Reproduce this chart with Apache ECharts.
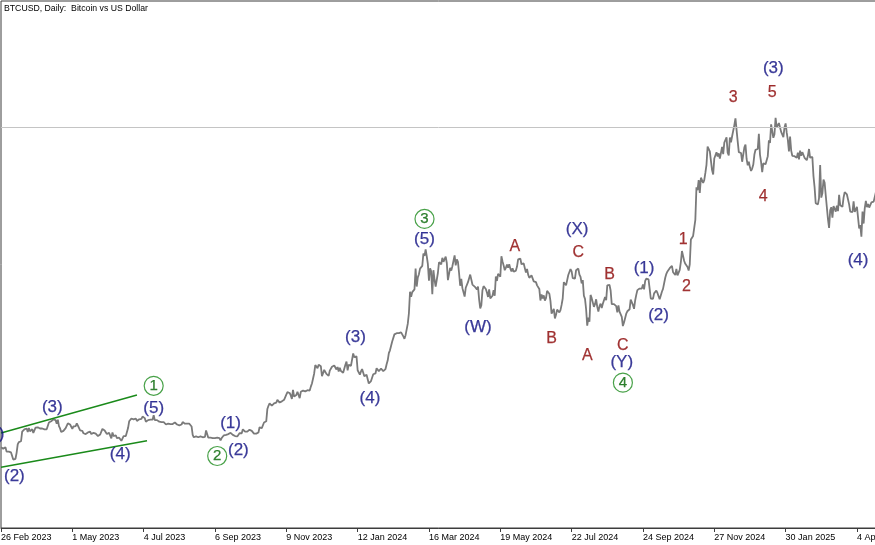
<!DOCTYPE html>
<html>
<head>
<meta charset="utf-8">
<script src="https://cdn.jsdelivr.net/npm/echarts@6/dist/echarts.min.js"></script>
<style>
html,body{margin:0;padding:0;background:#fff;}
#chart{width:875px;height:545px;}
</style>
</head>
<body>
<div id="chart"></div>
<script>
// ---- Data (daily closes, thousands of USD), 26 Feb 2023 .. 22 Apr 2025 ----
const startDate = '2023-02-26';
const dayCount = 787;

const close2023 = [
23.5,23.5,23.1,
23.6,23.5,22.4,22.4,22.4,22.4,22.2,21.7,20.4,20.2,20.6,22.1,24.2,24.8,24.4,25.0,27.4,27.0,28.0,27.8,28.2,27.3,28.3,27.5,27.5,28.0,27.1,27.3,28.4,28.0,28.5,
28.5,28.2,27.8,28.2,28.2,28.0,27.9,28.0,28.3,29.7,30.2,30.0,30.4,30.5,30.3,30.3,29.4,30.4,28.8,28.2,27.3,27.8,27.6,27.5,28.3,28.4,29.5,29.3,29.2,29.2,
28.1,28.7,29.0,28.8,29.5,28.9,28.4,27.7,27.6,27.6,27.0,26.8,26.8,26.9,27.2,27.0,27.4,26.8,26.9,27.1,26.7,26.9,27.2,26.3,26.5,26.7,26.9,28.1,27.7,27.7,27.2,
26.8,27.2,27.1,27.1,25.7,27.2,26.3,26.5,26.5,25.8,25.9,25.9,25.9,25.1,25.6,26.3,26.5,26.3,26.8,28.3,30.0,29.9,30.7,30.5,30.5,30.3,30.7,30.1,30.4,30.5,
30.6,30.6,31.2,31.0,30.8,29.9,30.3,30.3,30.2,30.4,30.6,30.4,31.5,30.3,30.3,30.3,30.1,29.9,29.9,29.8,29.9,29.8,30.1,29.2,29.2,29.4,29.2,29.3,29.3,29.3,29.2,
29.7,29.2,29.2,29.1,29.0,29.1,29.2,29.8,29.6,29.4,29.4,29.4,29.3,29.4,29.2,28.7,26.6,26.0,26.1,26.2,26.1,26.0,26.4,26.2,26.1,26.0,26.1,26.1,27.7,27.3,25.9,
25.8,25.9,26.0,25.8,25.8,25.8,26.2,25.9,25.9,25.8,25.2,25.8,26.2,26.5,26.6,26.6,26.5,26.8,27.2,27.1,26.6,26.6,26.6,26.3,26.3,26.2,26.4,27.0,27.0,27.0,
28.0,27.5,27.4,27.8,27.4,27.9,27.9,27.9,27.6,27.4,26.9,26.8,26.9,26.9,27.2,28.5,28.4,28.3,28.7,29.7,30.0,30.0,33.1,33.9,34.5,34.2,33.9,34.1,34.5,34.5,34.7,
35.4,34.9,34.7,35.1,35.0,35.0,35.4,35.6,36.7,37.3,37.1,37.1,36.5,35.6,37.9,36.2,36.6,36.6,37.4,37.5,35.8,37.4,37.3,37.7,37.8,37.5,37.2,37.8,37.9,37.7,
38.7,39.5,40.0,42.0,44.1,43.8,43.3,44.2,43.8,43.8,41.3,41.5,42.9,43.0,41.9,42.3,41.4,42.7,42.3,43.7,43.9,44.0,43.7,43.0,43.6,42.5,43.4,42.6,42.1,42.2,42.3
];
const close2024 = [
44.2,45.0,42.8,44.2,44.2,43.9,43.9,47.0,46.1,46.6,46.3,42.8,42.8,41.7,42.5,43.1,42.7,41.3,41.6,41.7,41.6,39.5,39.8,40.1,40.0,41.8,42.1,42.0,43.3,42.9,42.6,
43.1,43.2,43.0,42.6,42.7,43.1,44.3,45.3,47.1,47.8,48.3,50.0,49.7,51.8,51.9,52.1,51.6,52.1,51.8,52.3,51.8,51.3,50.7,51.6,51.7,54.5,57.1,62.5,61.2,
62.4,62.0,63.1,68.3,63.8,66.1,66.9,68.3,68.5,69.0,72.1,71.5,73.1,71.4,69.5,65.3,68.4,67.6,61.9,67.9,65.5,63.8,64.0,67.2,69.9,69.9,69.4,71.0,70.0,69.6,71.3,
69.7,65.4,65.9,68.5,67.8,68.9,69.3,71.6,69.1,70.6,70.0,67.2,64.0,65.7,63.4,63.8,61.3,63.5,63.8,64.9,64.9,66.8,66.4,64.3,64.5,63.8,63.4,63.1,63.8,60.6,
58.3,59.1,62.9,63.9,64.0,63.2,62.3,61.2,63.1,60.8,60.8,61.5,62.9,61.5,66.3,65.2,67.0,67.0,66.3,71.4,70.1,69.1,67.9,68.5,69.3,68.5,69.4,68.3,67.6,68.4,67.5,
67.8,67.8,68.8,70.6,71.1,70.8,69.4,69.3,69.6,69.5,67.3,68.2,66.8,66.0,66.2,66.6,66.5,65.1,65.0,64.9,64.1,64.3,63.2,60.3,61.8,60.8,61.6,60.3,60.9,62.7,
62.8,62.0,60.2,57.0,56.7,58.2,55.8,56.7,58.0,57.7,57.3,57.9,59.2,60.8,64.9,65.1,64.1,64.0,66.7,67.1,68.2,67.6,65.9,65.4,65.8,67.9,68.0,68.3,66.8,66.2,64.6,
65.4,61.5,60.7,58.1,54.0,56.0,55.0,61.7,60.9,60.9,58.7,59.4,60.6,58.7,57.5,58.9,59.5,58.4,59.5,59.0,61.2,60.4,64.1,64.2,64.2,62.8,59.4,59.0,59.4,59.1,58.9,
57.3,59.1,57.5,57.9,56.2,53.9,54.8,54.9,57.0,57.6,57.3,58.1,60.5,60.0,59.2,58.2,60.3,61.7,62.9,63.2,63.3,63.6,63.3,64.3,63.1,65.2,65.8,65.9,65.6,63.3,
60.8,60.6,60.7,62.1,62.1,62.8,62.2,62.1,60.6,60.3,62.5,63.2,62.8,66.0,67.0,67.6,67.4,68.4,68.4,69.0,67.4,67.4,66.7,68.2,66.6,67.0,68.0,69.9,72.7,72.3,70.2,
69.5,69.4,68.7,67.8,69.4,75.6,75.9,76.5,76.7,80.5,88.7,88.0,90.5,87.3,91.1,90.6,89.8,90.5,92.3,94.3,98.9,98.9,97.7,98.0,93.0,91.9,95.9,95.6,97.5,96.4,
97.2,95.9,96.0,98.8,97.0,99.9,99.9,101.2,97.4,96.7,101.2,100.0,101.5,101.4,104.3,106.0,106.1,100.2,97.5,97.8,97.3,95.1,94.7,98.7,99.4,95.8,94.2,95.1,93.7,92.8,93.4
];
const close2025 = [
94.4,96.9,98.1,98.2,98.3,102.1,96.9,95.0,92.5,94.7,94.5,94.5,94.5,96.5,100.5,99.8,104.5,104.4,101.1,102.0,106.1,103.7,103.9,104.8,104.7,102.6,102.1,101.3,103.7,104.7,102.4,
100.6,97.7,101.4,97.9,96.6,96.6,96.5,96.5,96.1,97.4,95.7,97.9,96.6,97.5,97.6,96.1,95.8,95.5,96.6,98.3,96.1,96.6,96.3,91.5,88.7,84.7,84.4,84.4,
86.0,94.3,86.1,87.2,90.6,89.9,86.7,86.2,80.7,78.5,82.9,83.7,81.1,84.0,84.3,82.6,84.1,82.7,86.8,84.2,84.0,83.8,86.1,87.5,87.4,86.9,87.2,84.4,82.6,82.3,82.5,
85.2,82.5,83.1,83.8,83.5,78.4,79.2,76.3,82.6,79.6,83.4,85.3,83.7,84.5,83.6,84.0,84.9,84.5,85.1,85.2,87.5,93.4
];
const closes = close2023.concat(close2024, close2025);

// x-axis tick labels (every 64 days)
const tickLabels = ['26 Feb 2023','1 May 2023','4 Jul 2023','6 Sep 2023','9 Nov 2023','12 Jan 2024',
  '16 Mar 2024','19 May 2024','22 Jul 2024','24 Sep 2024','27 Nov 2024','30 Jan 2025','4 Apr 2025'];
const tickStep = 64;

// horizontal level (thousands USD)
const levelLine = 103.8;

// Elliott wave annotations: [date, price(k), text]
const navyLabels = [
  ['2023-02-26',26.8,'(1)'],['2023-03-10',16.3,'(2)'],['2023-04-13',33.4,'(3)'],['2023-06-13',21.6,'(4)'],
  ['2023-07-13',33.3,'(5)'],['2023-09-20',29.45,'(1)'],['2023-09-27',22.8,'(2)'],['2024-01-10',51.1,'(3)'],
  ['2024-01-23',35.8,'(4)'],['2024-03-12',75.6,'(5)'],['2024-04-29',53.7,'(W)'],['2024-07-27',78.2,'(X)'],
  ['2024-09-05',44.7,'(Y)'],['2024-09-25',68.4,'(1)'],['2024-10-08',56.7,'(2)'],['2025-01-19',118.5,'(3)'],
  ['2025-04-05',70.3,'(4)']
];
const redLabels = [
  ['2024-06-01',73.8,'A'],['2024-07-04',50.8,'B'],['2024-07-28',72.3,'C'],['2024-08-05',46.6,'A'],
  ['2024-08-25',66.7,'B'],['2024-09-06',49.1,'C'],['2024-10-30',75.5,'1'],['2024-11-02',63.9,'2'],
  ['2024-12-14',111.2,'3'],['2025-01-10',86.3,'4'],['2025-01-18',112.4,'5']
];
const greenLabels = [
  ['2023-07-13',38.9,'1'],['2023-09-08',21.3,'2'],['2024-03-12',80.75,'3'],['2024-09-06',39.7,'4']
];
// channel lines: [[date, price], [date, price]]
const channelUpper = [['2023-02-26',27.07],['2023-06-28',36.6]];
const channelLower = [['2023-02-26',18.47],['2023-07-07',25.14]];

// ---- build categories ----
const categories = [];
const d0 = new Date(startDate + 'T00:00:00Z');
for (let i = 0; i < dayCount; i++) {
  const d = new Date(d0.getTime() + i * 86400000);
  categories.push(d.toISOString().slice(0, 10));
}

function labelSeries(list, color, size, extra) {
  return Object.assign({
    type: 'scatter',
    silent: true,
    clip: false,
    symbolSize: 1,
    itemStyle: { color: 'rgba(0,0,0,0)' },
    z: 5,
    data: list.map((r, i) => ({
      value: [r[0], r[1]],
      label: { formatter: r[2], offset: (i === 0 && list === navyLabels) ? [-7, 0] : [0, 0] }
    })),
    label: {
      show: true, position: 'inside', color: color,
      textBorderColor: color, textBorderWidth: 0.25,
      fontFamily: 'Liberation Sans, Arial, sans-serif', fontSize: size
    }
  }, extra || {});
}

const chart = echarts.init(document.getElementById('chart'), null, { renderer: 'canvas' });
chart.setOption({
  animation: false,
  backgroundColor: '#ffffff',
  grid: {
    left: 1, top: 1, right: -2, bottom: 17, containLabel: false, outerBoundsMode: 'none',
    show: true, borderColor: '#3c3c3c', borderWidth: 1, backgroundColor: 'transparent'
  },
  graphic: [{
    type: 'text', left: 4, top: 4,
    style: { text: 'BTCUSD, Daily:  Bitcoin vs US Dollar', fill: '#000', font: '8.7px "Liberation Sans", Arial, sans-serif' }
  }],
  xAxis: {
    type: 'category',
    data: categories,
    boundaryGap: false,
    axisLine: { show: true, lineStyle: { color: '#3c3c3c', width: 1 } },
    axisTick: { show: true, interval: tickStep - 1, length: 4, lineStyle: { color: '#3c3c3c' } },
    axisLabel: {
      interval: tickStep - 1, align: 'left', margin: 5, color: '#000',
      fontFamily: 'Liberation Sans, Arial, sans-serif', fontSize: 9,
      hideOverlap: false,
      formatter: (v, idx) => (idx % tickStep === 0 ? (tickLabels[idx / tickStep] || '') : '')
    },
    splitLine: { show: false }
  },
  yAxis: {
    type: 'value', min: 3.24, max: 135.42,
    axisLine: { show: false }, axisTick: { show: false }, axisLabel: { show: false }, splitLine: { show: false }
  },
  series: [
    {
      type: 'line', data: closes, symbol: 'none', silent: true,
      lineStyle: { color: '#7a7a7a', width: 1.8 },
      markLine: {
        silent: true, symbol: ['none', 'none'], label: { show: false },
        lineStyle: { color: '#c4c4c4', width: 1, type: 'solid' },
        data: [{ yAxis: levelLine }]
      },
      z: 3
    },
    { type: 'line', data: channelUpper, symbol: 'none', silent: true, lineStyle: { color: '#1a8a1a', width: 1.5 }, z: 4 },
    { type: 'line', data: channelLower, symbol: 'none', silent: true, lineStyle: { color: '#1a8a1a', width: 1.5 }, z: 4 },
    labelSeries(navyLabels, '#0a0a80', 17),
    labelSeries(redLabels, '#8a0000', 16),
    labelSeries(greenLabels, '#006400', 15, {
      symbol: 'circle', symbolSize: 19,
      itemStyle: { color: 'rgba(0,0,0,0)', borderColor: '#1a8a1a', borderWidth: 1.2 }
    })
  ]
});
</script>
</body>
</html>
